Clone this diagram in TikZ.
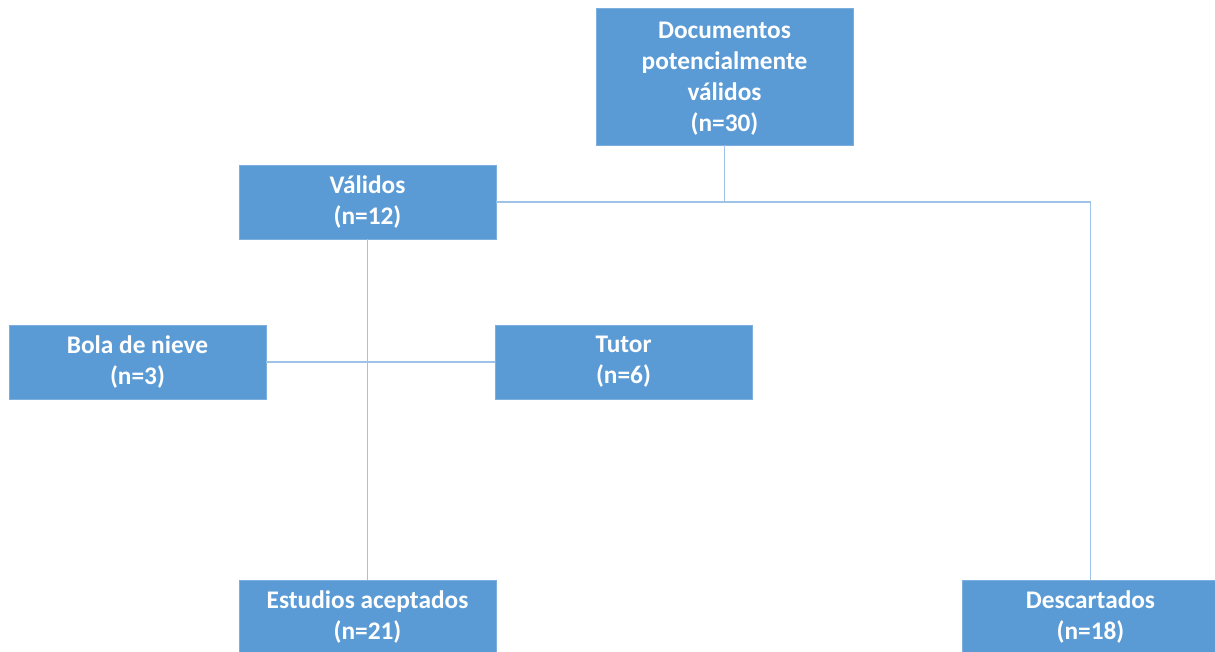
\documentclass[tikz,border=0pt]{standalone}
\usepackage{fontspec}
\setmainfont{Carlito}
\definecolor{boxblue}{HTML}{5B9BD5}
\definecolor{lineblue}{HTML}{9DC3E6}
\tikzset{
  box/.style={rectangle, fill=boxblue, draw=boxblue!80!white, line width=0.5pt,
    minimum width=257*0.75pt, minimum height=74*0.75pt, inner sep=0pt,
    text=white, align=center,
    font=\fontsize{19}{23.25}\selectfont\bfseries},
  conn/.style={draw=lineblue, line width=1.1pt}
}
\begin{document}
\begin{tikzpicture}[x=0.75pt,y=-0.75pt]
\clip (0,0) rectangle (1215,651);
\fill[white] (0,0) rectangle (1215,651);
\node[box, minimum height=137*0.75pt] (top) at (724.5,76.5) {};
\node[align=center, text=white, inner sep=0pt, font=\fontsize{19}{23.25}\selectfont\bfseries] (toptext) at (724.5,78.5) {Documentos\\potencialmente\\válidos\\(n=30)};
\node[box] (val) at (367.5,202) {Válidos\\(n=12)};
\node[box] (bola) at (137.5,362) {Bola de nieve\\(n=3)};
\node[box] (tut) at (623.5,362) {Tutor\\(n=6)};
\node[box] (est) at (367.5,617) {Estudios aceptados\\(n=21)};
\node[box] (desc) at (1090.5,617) {Descartados\\(n=18)};
\coordinate (corner) at (1090.5,202);
\draw[conn] (top.south) -- (top.south |- val.east);
\draw[conn] (val.east) -- (corner) -- (desc.north);
\draw[conn] (val.south) -- (est.north);
\draw[conn] (bola.east) -- (tut.west);
\end{tikzpicture}
\end{document}
